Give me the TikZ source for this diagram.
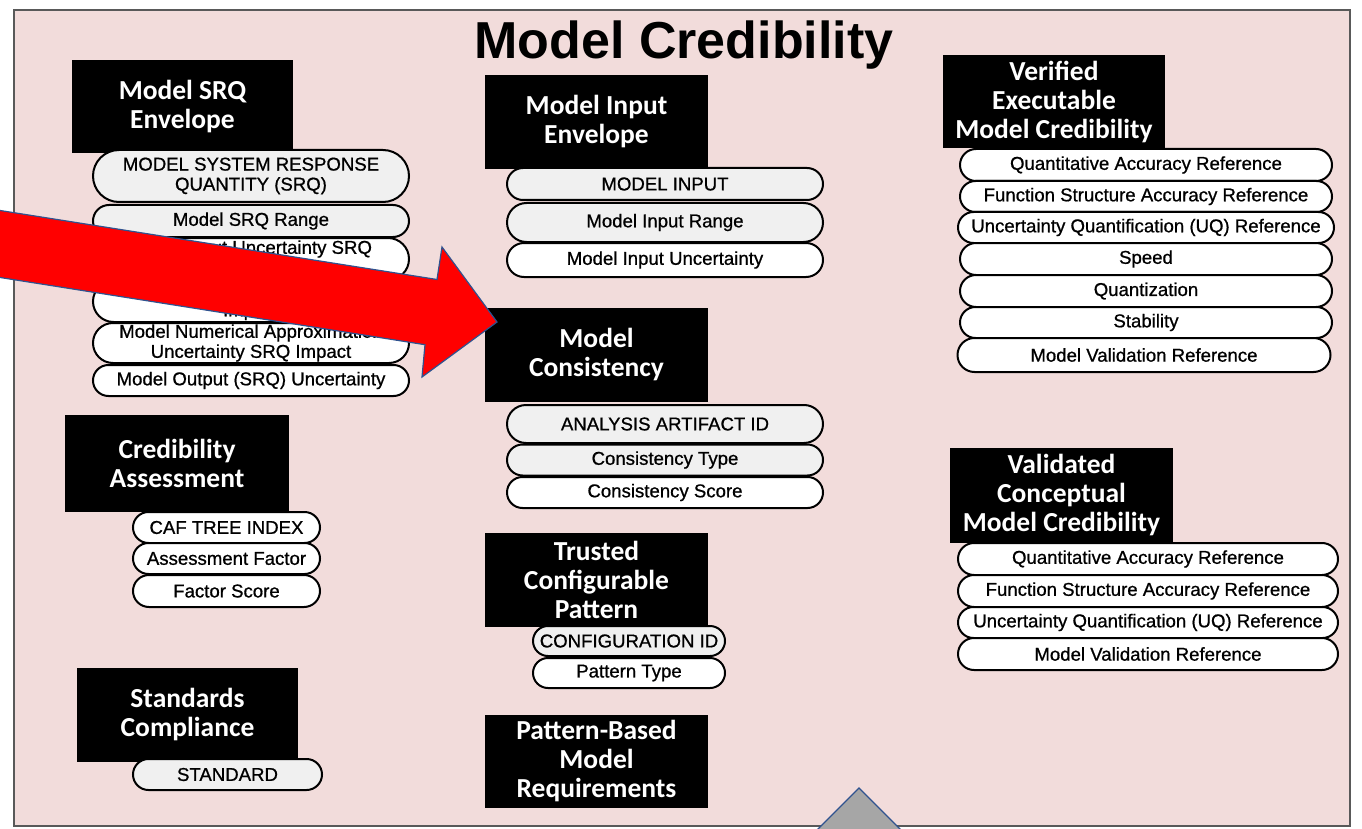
\documentclass[tikz,border=0pt]{standalone}
\usepackage{fontspec}
\setmainfont{Liberation Sans}
\newfontfamily\carl{Carlito}
\newfontfamily\pillfont{Liberation Sans}[FakeBold=0.8]
\usetikzlibrary{shapes.misc}
\definecolor{framepink}{HTML}{F2DCDB}
\definecolor{frameline}{HTML}{595959}
\definecolor{pillgray}{HTML}{F0F0F0}
\definecolor{arrowblue}{HTML}{2F528F}
\definecolor{arrowred}{HTML}{FF0000}
\definecolor{trigray}{HTML}{A6A6A6}
\begin{document}
\begin{tikzpicture}[x=1pt,y=-1pt,
  hdr/.style={fill=black, text=white, inner sep=0pt, align=center,
    font=\carl\bfseries\fontsize{27.5}{29}\selectfont},
  pill/.style={rounded rectangle, draw=black, line width=2pt, fill=white,
    inner sep=0pt, align=center, font=\pillfont\fontsize{18.6}{20}\selectfont},
  gpill/.style={pill, fill=pillgray},
  blockarrow/.style={fill=arrowred, draw=arrowblue, line width=1.2pt, line join=miter},
  marker/.style={fill=trigray, draw=arrowblue, line width=1.2pt},
]
\useasboundingbox (0,0) rectangle (1362,829);
\fill[white] (0,0) rectangle (1362,829);
\draw[fill=framepink, draw=frameline, line width=2.5pt] (14,10) rectangle (1350,826);
\node[font=\bfseries\fontsize{52}{60}\selectfont, anchor=base, inner sep=0pt] (title) at (684,59) {Model Credibility};

% ---- Model SRQ Envelope
\node[hdr, minimum width=221pt, minimum height=93pt] (hsrq) at (182.5,106.5) {Model SRQ\\Envelope};
\node[gpill, minimum width=316pt, minimum height=52pt] (s1) at (251,176) {MODEL SYSTEM RESPONSE\\QUANTITY (SRQ)};
\node[gpill, minimum width=316pt, minimum height=32pt] (s2) at (251,221) {Model SRQ Range};
\node[pill, minimum width=316pt, minimum height=42pt] (s3) at (251,259) {Model Input Uncertainty SRQ\\Impact};
\node[pill, minimum width=316pt, minimum height=41pt] (s4) at (251,301.5) {Model Form Uncertainty SRQ\\Impact};
\node[pill, minimum width=316pt, minimum height=40pt] (s5) at (251,343) {Model Numerical Approximation\\Uncertainty SRQ Impact};
\node[pill, minimum width=316pt, minimum height=31pt] (s6) at (251,380.5) {Model Output (SRQ) Uncertainty};

% ---- Model Input Envelope
\node[hdr, minimum width=223pt, minimum height=94pt] (hin) at (596.5,122) {Model Input\\Envelope};
\node[gpill, minimum width=316pt, minimum height=32pt] (i1) at (665,184) {MODEL INPUT};
\node[gpill, minimum width=316pt, minimum height=39pt] (i2) at (665,222.5) {Model Input Range};
\node[pill, minimum width=316pt, minimum height=34pt] (i3) at (665,260) {Model Input Uncertainty};

% ---- Verified Executable Model Credibility
\node[hdr, minimum width=222pt, minimum height=93pt] (hver) at (1054,101.5) {Verified\\Executable\\Model Credibility};
\node[pill, minimum width=372pt, minimum height=32pt] (v1) at (1146,165) {Quantitative Accuracy Reference};
\node[pill, minimum width=372pt, minimum height=31pt] (v2) at (1146,196.5) {Function Structure Accuracy Reference};
\node[pill, minimum width=376pt, minimum height=31pt] (v3) at (1146,227.5) {Uncertainty Quantification (UQ) Reference};
\node[pill, minimum width=372pt, minimum height=32pt] (v4) at (1146,259) {Speed};
\node[pill, minimum width=372pt, minimum height=32pt] (v5) at (1146,291) {Quantization};
\node[pill, minimum width=372pt, minimum height=31pt] (v6) at (1146,322.5) {Stability};
\node[pill, minimum width=373pt, minimum height=34pt] (v7) at (1144,355) {Model Validation Reference};

% ---- Credibility Assessment
\node[hdr, minimum width=224pt, minimum height=97pt] (hca) at (177,463.5) {Credibility\\Assessment};
\node[pill, minimum width=187pt, minimum height=31pt] (c1) at (226.5,527.5) {CAF TREE INDEX};
\node[pill, minimum width=187pt, minimum height=31pt] (c2) at (226.5,558.5) {Assessment Factor};
\node[pill, minimum width=187pt, minimum height=32pt] (c3) at (226.5,591) {Factor Score};

% ---- Standards Compliance
\node[hdr, minimum width=221pt, minimum height=94pt] (hsc) at (187.5,715) {Standards\\Compliance};
\node[gpill, minimum width=189pt, minimum height=31pt] (st1) at (227.5,774.5) {STANDARD};

% ---- Model Consistency
\node[hdr, minimum width=223pt, minimum height=94pt] (hmc) at (596.5,355) {Model\\Consistency};
\node[gpill, minimum width=316pt, minimum height=38pt] (m1) at (665,424) {ANALYSIS ARTIFACT ID};
\node[gpill, minimum width=316pt, minimum height=31pt] (m2) at (665,460) {Consistency Type};
\node[pill, minimum width=316pt, minimum height=31pt] (m3) at (665,492.5) {Consistency Score};

% ---- Trusted Configurable Pattern
\node[hdr, minimum width=223pt, minimum height=94pt] (htc) at (596.5,580) {Trusted\\Configurable\\Pattern};
\node[gpill, minimum width=192pt, minimum height=30pt] (t1) at (629,641) {CONFIGURATION ID};
\node[pill, minimum width=192pt, minimum height=30pt] (t2) at (629,673) {Pattern Type};

% ---- Pattern-Based Model Requirements
\node[hdr, minimum width=223pt, minimum height=93pt] (hpb) at (596.5,761.5) {Pattern-Based\\Model\\Requirements};

% ---- Validated Conceptual Model Credibility
\node[hdr, minimum width=223pt, minimum height=95pt] (hval) at (1061.5,495.5) {Validated\\Conceptual\\Model Credibility};
\node[pill, minimum width=380pt, minimum height=32pt] (w1) at (1148,559) {Quantitative Accuracy Reference};
\node[pill, minimum width=380pt, minimum height=32pt] (w2) at (1148,591) {Function Structure Accuracy Reference};
\node[pill, minimum width=380pt, minimum height=31pt] (w3) at (1148,622.5) {Uncertainty Quantification (UQ) Reference};
\node[pill, minimum width=380pt, minimum height=32pt] (w4) at (1148,654) {Model Validation Reference};

% ---- overlays
\draw[blockarrow] (-10,208.9) -- (437,279.5) -- (442,247) -- (497,322) -- (422,377) -- (425,344.7) -- (-10,275.9) -- cycle;
\draw[marker] (859,788) -- (910,839) -- (808,839) -- cycle;
\end{tikzpicture}
\end{document}
